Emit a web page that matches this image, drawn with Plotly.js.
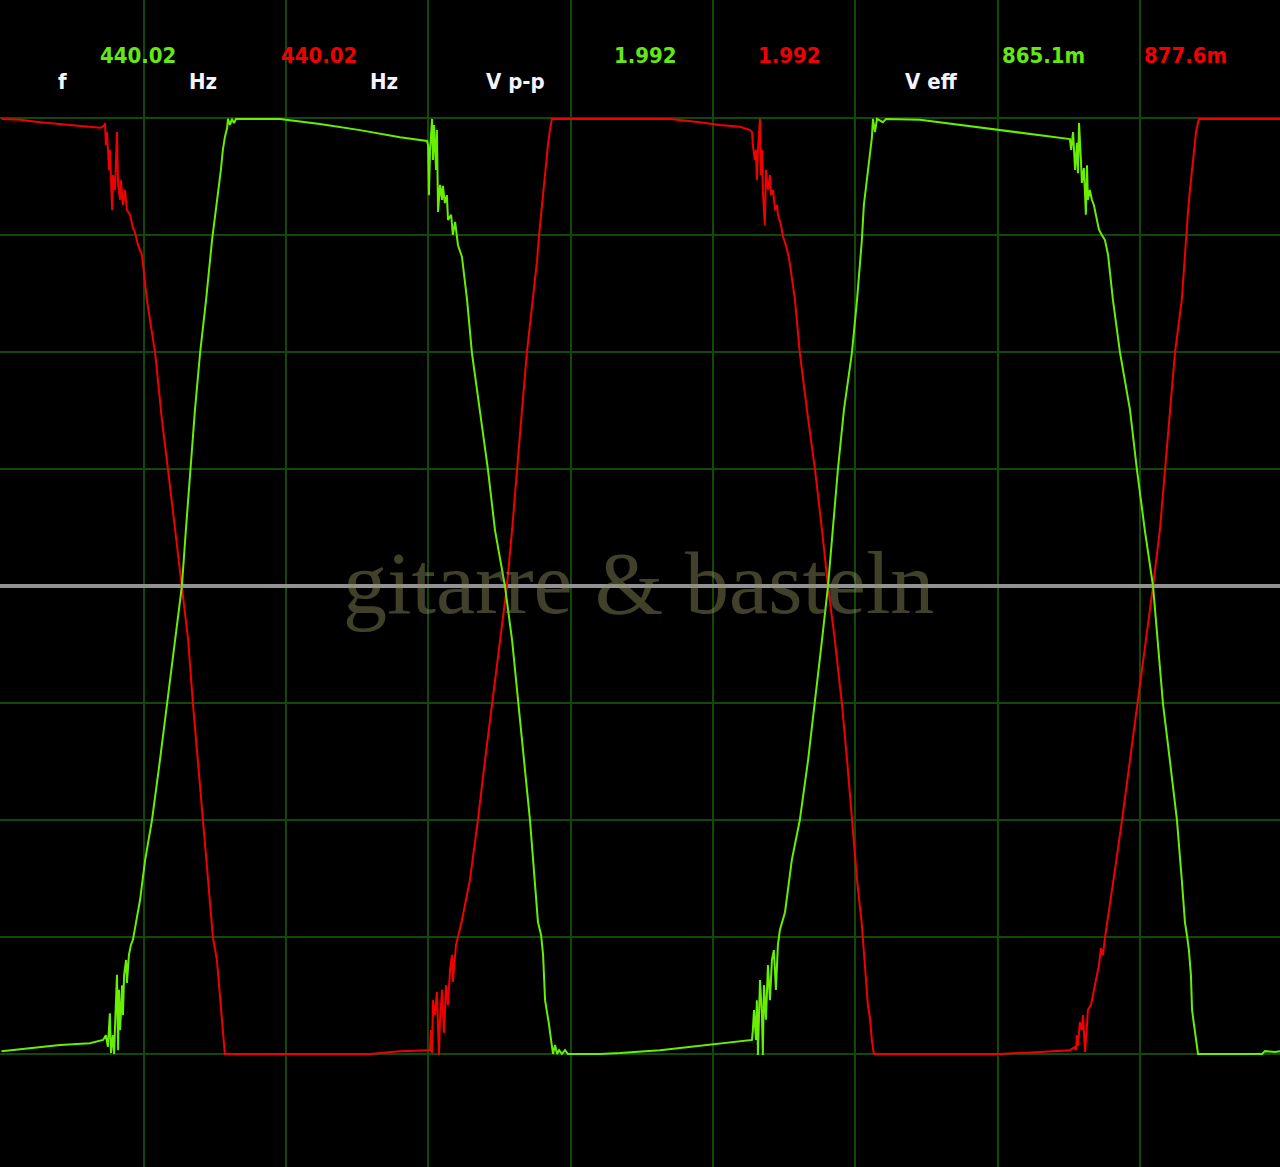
<!DOCTYPE html>
<html>
<head>
<meta charset="utf-8">
<script src="https://cdn.plot.ly/plotly-3.0.1.min.js"></script>
<style>
html,body{margin:0;padding:0;background:#000;}
#chart{width:1280px;height:1167px;}
</style>
</head>
<body>
<div id="chart"></div>
<script>
// ---- Data (time in ms, voltage in V) ----
const redTime = [0,0.065,0.136,0.206,0.276,0.346,0.360,0.364,0.367,0.371,0.378,0.381,0.389,0.392,0.399,0.403,0.406,0.410,0.417,0.420,0.427,0.434,0.441,0.452,0.462,0.469,0.480,0.494,
0.511,0.540,0.564,0.585,0.610,0.634,0.656,0.673,0.691,0.708,0.726,0.743,0.757,0.768,0.778,0.785,
1.295,1.400,1.502,1.506,1.509,1.513,1.516,1.523,1.530,1.537,1.541,1.548,1.551,1.555,1.562,1.569,1.576,1.583,1.586,1.597,1.604,1.618,
1.646,1.674,1.699,1.724,1.752,1.776,1.794,1.811,1.829,1.846,1.868,1.882,1.889,1.899,1.906,1.913,1.920,1.927,1.934,
2.349,2.384,2.454,2.524,2.595,2.630,
2.637,2.640,2.647,2.651,2.654,2.658,2.665,2.669,2.672,2.675,2.682,2.686,2.693,2.700,2.704,2.711,2.718,2.725,2.728,2.739,2.746,2.756,2.767,
2.788,2.805,2.830,2.858,2.883,2.904,2.928,2.953,2.971,2.988,3.006,3.023,3.030,3.037,3.044,3.051,3.058,3.065,
3.508,3.649,3.754,3.772,
3.775,3.779,3.782,3.789,3.796,3.800,3.807,3.814,3.817,3.828,3.838,3.849,3.856,3.863,3.870,3.877,3.884,
3.912,3.937,3.965,3.993,4.021,4.046,4.070,4.088,4.105,4.123,4.147,4.158,4.168,4.175,4.183,4.190,4.197,4.207,4.492];
const redVolt = [0.999,0.997,0.992,0.988,0.984,0.980,0.984,0.990,0.943,0.971,0.890,0.933,0.804,0.879,0.847,0.900,0.971,0.858,0.826,0.868,0.815,0.847,0.804,0.794,0.766,0.757,0.729,0.708,
0.612,0.499,0.355,0.251,0.120,0.000,-0.115,-0.252,-0.372,-0.500,-0.628,-0.750,-0.799,-0.885,-0.960,-1.000,
-1.000,-0.994,-0.992,-0.992,-0.949,-0.998,-0.885,-0.917,-0.867,-1.002,-0.927,-0.863,-0.906,-0.955,-0.853,-0.895,-0.821,-0.788,-0.846,-0.767,-0.750,-0.714,
-0.628,-0.500,-0.372,-0.252,-0.115,0.000,0.120,0.251,0.377,0.499,0.612,0.697,0.751,0.815,0.858,0.900,0.943,0.975,0.999,
0.999,0.997,0.992,0.986,0.982,0.975,
0.971,0.943,0.911,0.933,0.868,0.933,0.999,0.879,0.933,0.847,0.772,0.890,0.847,0.879,0.836,0.847,0.804,0.815,0.794,0.772,0.747,0.729,0.702,
0.612,0.499,0.377,0.251,0.120,0.000,-0.115,-0.252,-0.372,-0.500,-0.628,-0.724,-0.788,-0.831,-0.895,-0.921,-0.970,-1.000,
-1.000,-0.996,-0.992,-0.985,
-0.992,-0.960,-0.981,-0.932,-0.949,-0.917,-0.996,-0.938,-0.906,-0.895,-0.867,-0.831,-0.810,-0.774,-0.788,-0.752,-0.724,
-0.607,-0.500,-0.372,-0.252,-0.115,0.000,0.120,0.251,0.377,0.499,0.612,0.719,0.794,0.843,0.890,0.933,0.971,0.999,0.999];

const greenTime = [0,0.100,0.206,0.311,0.357,0.367,0.374,0.381,0.385,0.392,0.396,0.399,0.406,0.410,0.413,0.417,0.424,0.427,0.431,0.438,0.441,0.448,0.455,0.462,
0.487,0.505,0.529,0.557,0.582,0.610,0.634,0.648,0.663,0.680,0.698,0.719,0.740,0.754,0.761,0.771,0.778,0.785,0.793,0.796,0.803,0.810,0.817,0.824,0.979,
1.119,1.260,1.400,1.495,
1.499,1.502,1.506,1.513,1.516,1.520,1.527,1.530,1.534,1.541,1.548,1.551,1.558,1.565,1.569,1.580,1.586,1.594,1.604,1.618,
1.636,1.653,1.681,1.709,1.734,1.769,1.794,1.815,1.836,1.857,1.875,1.885,1.896,1.903,1.910,1.917,1.924,1.931,1.938,1.945,1.952,1.959,1.969,1.980,1.990,2.103,
2.173,2.314,2.454,2.595,2.637,
2.640,2.644,2.651,2.654,2.658,2.665,2.672,2.675,2.679,2.686,2.693,2.700,2.707,2.714,2.721,2.728,2.735,2.746,2.753,
2.777,2.805,2.834,2.858,2.883,2.904,2.921,2.939,2.960,2.988,3.006,3.023,3.030,3.037,3.044,3.051,3.058,3.062,3.069,3.076,3.097,3.108,3.227,
3.367,3.508,3.649,3.754,
3.758,3.765,3.772,3.779,3.782,3.786,3.793,3.796,3.803,3.810,3.814,3.817,3.824,3.831,3.838,3.849,3.856,3.866,3.877,3.888,
3.905,3.930,3.965,3.989,4.017,4.046,4.063,4.081,4.105,4.130,4.147,4.158,4.165,4.172,4.179,4.183,4.190,4.197,4.204,4.429,4.439,4.474,4.492];
const greenVolt = [-0.994,-0.987,-0.981,-0.977,-0.970,-0.960,-0.985,-0.913,-0.998,-0.960,-1.000,-0.944,-0.831,-0.992,-0.863,-0.949,-0.853,-0.917,-0.831,-0.799,-0.848,-0.788,-0.767,-0.756,
-0.671,-0.585,-0.500,-0.372,-0.252,-0.115,0.000,0.120,0.251,0.377,0.499,0.612,0.740,0.804,0.847,0.890,0.933,0.960,0.980,0.999,0.986,0.999,0.990,0.999,0.999,
0.988,0.975,0.960,0.952,
0.943,0.836,0.933,0.999,0.911,0.986,0.890,0.975,0.800,0.858,0.826,0.856,0.819,0.836,0.783,0.794,0.751,0.779,0.729,0.704,
0.612,0.499,0.377,0.251,0.120,0.000,-0.115,-0.252,-0.372,-0.500,-0.628,-0.718,-0.746,-0.788,-0.885,-0.910,-0.938,-0.970,-1.000,-0.981,-1.000,-0.992,-1.000,-0.992,-1.000,-1.000,
-0.998,-0.992,-0.983,-0.974,-0.970,
-0.949,-0.906,-0.970,-0.885,-1.002,-0.842,-0.917,-1.002,-0.853,-0.927,-0.810,-0.885,-0.799,-0.778,-0.863,-0.767,-0.735,-0.714,-0.697,
-0.585,-0.500,-0.372,-0.252,-0.115,0.000,0.120,0.251,0.377,0.499,0.612,0.740,0.815,0.847,0.890,0.922,0.958,0.999,0.971,0.999,0.992,0.999,0.997,
0.986,0.975,0.965,0.956,
0.933,0.971,0.890,0.948,0.883,0.990,0.905,0.862,0.894,0.794,0.900,0.826,0.847,0.826,0.815,0.779,0.762,0.751,0.740,0.708,
0.612,0.499,0.377,0.251,0.120,0.000,-0.115,-0.252,-0.372,-0.500,-0.628,-0.718,-0.746,-0.778,-0.831,-0.906,-0.938,-0.970,-1.000,-1.000,-0.994,-0.996,-0.994];

// ---- Readout texts ----
const labelTexts = ["f", "Hz", "Hz", "V p-p", "V eff"];
const greenReadings = ["440.02", "1.992", "865.1m"];
const redReadings = ["440.02", "1.992", "877.6m"];
const watermarkText = "gitarre & basteln";
const timeGridTicks = [0.5, 1.0, 1.5, 2.0, 2.5, 3.0, 3.5, 4.0];
const voltGridTicks = [-1.0, -0.75, -0.5, -0.25, 0, 0.25, 0.5, 0.75, 1.0];

// ---- Styling / layout ----
const W = 1280, H = 1167;
const GREEN = 'rgb(104,238,0)';
const RED = 'rgb(240,0,0)';
const GREEN_TXT = 'rgb(100,232,20)';
const WHITE_TXT = '#f4f4ff';
const FONT = '"DejaVu Sans Condensed", "DejaVu Sans", sans-serif';

const labelPx = [62, 203, 384, 515, 931];
const greenPx = [138, 645, 1043];
const redPx = [319, 789, 1185];
const rowNum = 56, rowLab = 81;

function ann(text, xpx, ypx, color) {
  return {
    text: text, xref: 'paper', yref: 'paper',
    x: xpx / W, y: 1 - ypx / H, xanchor: 'center', yanchor: 'middle',
    showarrow: false,
    font: {family: FONT, size: 22, color: color, weight: 'bold'}
  };
}

const annotations = [];
labelTexts.forEach((t, i) => annotations.push(ann(t, labelPx[i], rowLab, WHITE_TXT)));
greenReadings.forEach((t, i) => annotations.push(ann(t, greenPx[i], rowNum, GREEN_TXT)));
redReadings.forEach((t, i) => annotations.push(ann(t, redPx[i], rowNum, RED)));
annotations.push({
  text: watermarkText, xref: 'paper', yref: 'paper',
  x: 638 / W, y: 1 - 583 / H, xanchor: 'center', yanchor: 'middle',
  showarrow: false,
  font: {family: '"Liberation Serif", "DejaVu Serif", serif', size: 88, color: 'rgba(145,145,95,0.45)'}
});

const traces = [
  {x: redTime, y: redVolt, type: 'scatter', mode: 'lines', line: {color: RED, width: 2}, hoverinfo: 'skip'},
  {x: greenTime, y: greenVolt, type: 'scatter', mode: 'lines', line: {color: GREEN, width: 2}, hoverinfo: 'skip'}
];

const GRID = 'rgb(18,72,10)';
const layout = {
  width: W, height: H,
  margin: {l: 0, r: 0, t: 0, b: 0, pad: 0},
  paper_bgcolor: '#000', plot_bgcolor: '#000',
  showlegend: false,
  xaxis: {
    range: [-0.005, 4.492], tickmode: 'array', tickvals: timeGridTicks,
    showticklabels: false, ticks: '', showgrid: true, gridcolor: GRID, gridwidth: 2,
    zeroline: false, showline: false, fixedrange: true
  },
  yaxis: {
    range: [-1.2417, 1.2532], tickmode: 'array', tickvals: voltGridTicks,
    showticklabels: false, ticks: '', showgrid: true, gridcolor: GRID, gridwidth: 2,
    zeroline: true, zerolinecolor: '#929292', zerolinewidth: 4, showline: false, fixedrange: true
  },
  annotations: annotations
};

Plotly.newPlot('chart', traces, layout, {displayModeBar: false, staticPlot: true});
</script>
</body>
</html>
